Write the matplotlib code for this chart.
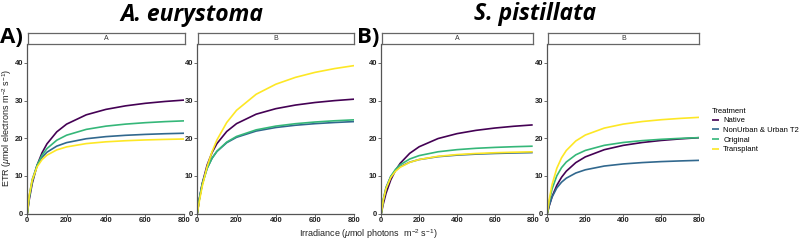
import matplotlib
matplotlib.use("Agg")
import matplotlib.pyplot as plt

plt.rcParams['font.family'] = ['Liberation Sans', 'DejaVu Sans']
plt.rcParams['mathtext.fontset'] = 'custom'
plt.rcParams['mathtext.rm'] = 'Liberation Sans'
plt.rcParams['mathtext.it'] = 'Liberation Sans:italic'

# ---------------- data ----------------
irradiance = [0, 10, 25, 50, 75, 100, 150, 200, 300, 400, 500, 600, 700, 800]
treatments = ["Native", "NonUrban & Urban T2", "Original", "Transplant"]
colors = ["#440154", "#31688E", "#35B779", "#FDE725"]
species = ["A. eurystoma", "S. pistillata"]
sites = ["A", "B"]
y_ticks = [0, 10, 20, 30, 40]
x_ticks = [0, 200, 400, 600, 800]

# A. eurystoma, site A
aeu_A_native = [0, 3.72, 7.96, 12.83, 16.12, 18.49, 21.68, 23.73, 26.20, 27.64, 28.58, 29.25, 29.74, 30.12]
aeu_A_nonurban = [0, 4.74, 8.99, 12.82, 14.93, 16.28, 17.89, 18.82, 19.85, 20.41, 20.76, 21.00, 21.18, 21.31]
aeu_A_original = [0, 4.23, 8.51, 12.84, 15.47, 17.24, 19.46, 20.79, 22.33, 23.19, 23.73, 24.11, 24.39, 24.60]
aeu_A_transplant = [0, 4.79, 8.88, 12.41, 14.31, 15.49, 16.89, 17.68, 18.56, 19.03, 19.32, 19.53, 19.67, 19.78]
# A. eurystoma, site B
aeu_B_native = [0, 3.71, 7.95, 12.85, 16.16, 18.56, 21.78, 23.86, 26.37, 27.83, 28.79, 29.47, 29.97, 30.36]
aeu_B_nonurban = [0, 3.80, 7.80, 12.02, 14.66, 16.48, 18.80, 20.23, 21.89, 22.83, 23.43, 23.85, 24.16, 24.40]
aeu_B_original = [0, 3.72, 7.70, 11.96, 14.67, 16.54, 18.96, 20.46, 22.21, 23.20, 23.84, 24.29, 24.62, 24.87]
aeu_B_transplant = [0, 3.17, 7.17, 12.41, 16.39, 19.53, 24.16, 27.40, 31.66, 34.32, 36.14, 37.47, 38.48, 39.27]
# S. pistillata, site A
spi_A_native = [0, 2.44, 5.37, 8.92, 11.45, 13.33, 15.97, 17.72, 19.90, 21.20, 22.07, 22.69, 23.16, 23.52]
spi_A_nonurban = [0, 3.67, 6.93, 9.83, 11.42, 12.43, 13.63, 14.32, 15.09, 15.50, 15.76, 15.94, 16.07, 16.17]
spi_A_original = [0, 3.38, 6.65, 9.84, 11.71, 12.95, 14.46, 15.37, 16.39, 16.95, 17.31, 17.55, 17.73, 17.87]
spi_A_transplant = [0, 3.44, 6.62, 9.56, 11.22, 12.29, 13.58, 14.33, 15.18, 15.64, 15.93, 16.13, 16.27, 16.38]
# S. pistillata, site B
spi_B_native = [0, 2.03, 4.47, 7.47, 9.62, 11.24, 13.51, 15.03, 16.94, 18.09, 18.85, 19.40, 19.81, 20.13]
spi_B_nonurban = [0, 2.11, 4.37, 6.79, 8.32, 9.38, 10.75, 11.60, 12.60, 13.16, 13.52, 13.78, 13.96, 14.11]
spi_B_original = [0, 3.18, 6.51, 10.00, 12.18, 13.67, 15.58, 16.74, 18.10, 18.86, 19.35, 19.70, 19.95, 20.14]
spi_B_transplant = [0, 3.68, 7.67, 12.00, 14.79, 16.73, 19.26, 20.83, 22.68, 23.74, 24.42, 24.90, 25.25, 25.53]

panels = [
    ("A", [aeu_A_native, aeu_A_nonurban, aeu_A_original, aeu_A_transplant]),
    ("B", [aeu_B_native, aeu_B_nonurban, aeu_B_original, aeu_B_transplant]),
    ("A", [spi_A_native, spi_A_nonurban, spi_A_original, spi_A_transplant]),
    ("B", [spi_B_native, spi_B_nonurban, spi_B_original, spi_B_transplant]),
]

# ---------------- layout ----------------
W, H = 800, 242
fig = plt.figure(figsize=(W / 100, H / 100), dpi=100)

def fx(px):
    return px / W

def fy(px):
    return 1 - px / H

panel_x = [(27.3, 184.5), (197.3, 354.3), (381.3, 532.7), (547.3, 699.3)]
ax_top, ax_bot = 44.0, 213.5
strip_top = 32.7
axis_col = "#555555"

handles = []
for i, ((site, series), (x0, x1)) in enumerate(zip(panels, panel_x)):
    ax = fig.add_axes([fx(x0), fy(ax_bot), (x1 - x0) / W, (ax_bot - ax_top) / H])
    for vals, c, lab in zip(series, colors, treatments):
        ln, = ax.plot(irradiance, vals, color=c, lw=1.2, label=lab, solid_capstyle='butt')
        if i == 0:
            handles.append(ln)
    ax.set_xlim(0, 800)
    ax.set_ylim(0, 45)
    ax.set_xticks(x_ticks)
    ax.set_yticks(y_ticks)
    for s in ["top", "right"]:
        ax.spines[s].set_visible(False)
    for s in ["left", "bottom"]:
        ax.spines[s].set_color(axis_col)
        ax.spines[s].set_linewidth(0.9)
    ax.tick_params(length=2, width=0.6, color=axis_col, pad=0.8,
                   labelsize=5.5, labelcolor="#222222")
    for t in ax.get_xticklabels() + ax.get_yticklabels():
        t.set_fontweight("bold")
    # strip
    sax = fig.add_axes([fx(x0 + 0.7), fy(ax_top), (x1 - x0 - 0.7) / W, (ax_top - strip_top) / H])
    sax.set_xticks([])
    sax.set_yticks([])
    sax.set_facecolor("white")
    for s in sax.spines.values():
        s.set_color("#666666")
        s.set_linewidth(0.9)
    sax.text(0.5, 0.5, site, ha="center", va="center", fontsize=5, color="#333333",
             transform=sax.transAxes)

# titles and panel letters
fig.text(fx(192), fy(21), species[0], ha="center", va="baseline", fontsize=16.5,
         fontweight="bold", fontstyle="italic", family=["Open Sans", "DejaVu Sans"])
fig.text(fx(535), fy(20), species[1], ha="center", va="baseline", fontsize=16.5,
         fontweight="bold", fontstyle="italic", family=["Open Sans", "DejaVu Sans"])
fig.text(fx(0), fy(43), "A)", ha="left", va="baseline", fontsize=16,
         fontweight="bold", family=["Open Sans", "DejaVu Sans"])
fig.text(fx(357), fy(43), "B)", ha="left", va="baseline", fontsize=16,
         fontweight="bold", family=["Open Sans", "DejaVu Sans"])

# axis labels
fig.text(fx(368), fy(234), r"Irradiance ($\mu$mol photons  m$^{-2}$ s$^{-1}$)",
         ha="center", va="center", fontsize=6.5, color="#222222")
fig.text(fx(0), fy(128), r"ETR ($\mu$mol electrons m$^{-2}$ s$^{-1}$)",
         ha="left", va="center", rotation=90, fontsize=6.5, color="#222222")

# legend
leg = fig.legend(handles, treatments, title="Treatment", loc="upper left",
                 bbox_to_anchor=(fx(708), fy(104)), frameon=False, fontsize=5.5,
                 title_fontsize=5.5, handlelength=0.9, handletextpad=0.6,
                 labelspacing=0.3, alignment="left", borderpad=0)

fig.savefig("out.png", dpi=100)
